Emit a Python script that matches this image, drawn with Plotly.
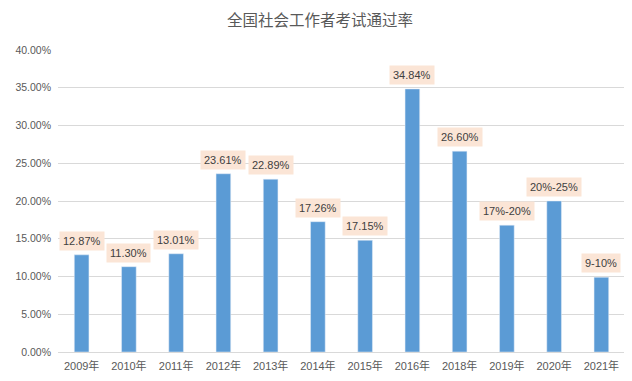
import plotly.graph_objects as go

categories = ["2009年", "2010年", "2011年", "2012年", "2013年", "2014年", "2015年",
              "2016年", "2018年", "2019年", "2020年", "2021年"]
values = [12.87, 11.30, 13.01, 23.61, 22.89, 17.26, 14.8, 34.84, 26.60, 16.8, 20.0, 9.9]
labels = ["12.87%", "11.30%", "13.01%", "23.61%", "22.89%", "17.26%", "17.15%",
          "34.84%", "26.60%", "17%-20%", "20%-25%", "9-10%"]
y_ticks = [0, 5, 10, 15, 20, 25, 30, 35, 40]
title = "全国社会工作者考试通过率"

fig = go.Figure(go.Bar(x=categories, y=values, marker_color="#5b9bd5", width=0.31,
                       hoverinfo="skip"))

for c, v, t in zip(categories, values, labels):
    fig.add_annotation(x=c, y=v, text=t, showarrow=False, yanchor="bottom", yshift=4,
                       bgcolor="#fbe5d6", borderpad=3,
                       font=dict(family="Liberation Sans, Arial", size=11, color="#404040"))

fig.update_layout(
    width=624, height=373,
    margin=dict(l=43, r=7, t=42, b=29),
    paper_bgcolor="white", plot_bgcolor="white",
    title=dict(text=title, x=0.5, xanchor="center", y=0.967, yanchor="middle",
               font=dict(family="Noto Sans CJK SC", size=15.5, color="#595959")),
    showlegend=False,
    bargap=0.69,
)
fig.update_yaxes(range=[0, 40], tickvals=y_ticks, ticktext=[f"{v:.2f}%" for v in y_ticks],
                 showgrid=True, gridcolor="#d9d9d9", gridwidth=1, zeroline=False,
                 ticks="", ticklabelstandoff=6,
                 tickfont=dict(family="Liberation Sans, Arial", size=10.5, color="#595959"))
fig.update_xaxes(showline=True, linecolor="#d9d9d9", linewidth=1, ticks="",
                 ticklabelstandoff=4,
                 tickfont=dict(family="Liberation Sans, Noto Sans CJK SC", size=11, color="#595959"))

fig.write_html("out.html")
